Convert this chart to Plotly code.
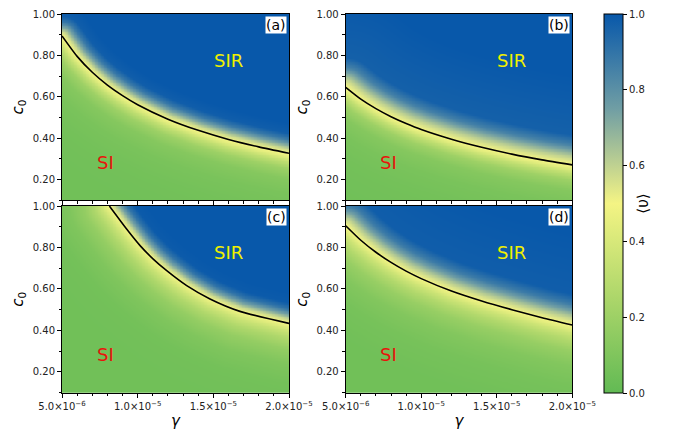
import numpy as np
import plotly.graph_objects as go

# ---- data ----
# phase boundary (black line) per panel: gamma, c0
gamma_a = [5e-6, 6e-6, 7e-6, 8e-6, 9e-6, 10e-6, 12e-6, 14e-6, 16e-6, 18e-6, 20e-6]
c0_a = [0.894, 0.795, 0.718, 0.656, 0.605, 0.561, 0.491, 0.437, 0.393, 0.357, 0.326]

gamma_b = [5e-6, 6e-6, 7e-6, 8e-6, 9e-6, 10e-6, 12e-6, 14e-6, 16e-6, 18e-6, 20e-6]
c0_b = [0.645, 0.588, 0.542, 0.503, 0.47, 0.441, 0.394, 0.355, 0.322, 0.294, 0.27]

gamma_c = [8.13e-6, 9.27e-6, 10.16e-6, 11.03e-6, 11.92e-6, 13.24e-6, 14.78e-6, 16.76e-6, 20.0e-6]
c0_c = [1.0, 0.889, 0.809, 0.744, 0.688, 0.616, 0.552, 0.492, 0.434]

gamma_d = [5e-6, 6e-6, 7e-6, 8e-6, 9e-6, 10e-6, 12e-6, 14e-6, 16e-6, 18e-6, 20e-6]
c0_d = [0.905, 0.835, 0.777, 0.728, 0.686, 0.65, 0.59, 0.542, 0.5, 0.461, 0.426]

# <upsilon> profile across the boundary (signed distance in px, + = above line)
profile_dist = [-90, -60, -40, -25, -15, -8, -3, 0, 4, 8, 14, 20, 30, 90]
profile_a = [0.05, 0.06, 0.08, 0.12, 0.2, 0.32, 0.44, 0.5, 0.57, 0.7, 0.88, 0.98, 1.0, 1.0]
profile_b = [0.05, 0.06, 0.08, 0.12, 0.2, 0.32, 0.44, 0.5, 0.54, 0.6, 0.72, 0.85, 0.97, 1.0]
profile_c = [0.05, 0.06, 0.1, 0.17, 0.26, 0.35, 0.44, 0.5, 0.58, 0.72, 0.9, 0.99, 1.0, 1.0]
profile_d = [0.05, 0.07, 0.11, 0.18, 0.27, 0.36, 0.45, 0.5, 0.55, 0.62, 0.75, 0.87, 0.98, 1.0]

panel_labels = ["(a)", "(b)", "(c)", "(d)"]
x_tickvals = [5e-6, 1e-5, 1.5e-5, 2e-5]
x_ticktext = ["5.0×10<sup>−6</sup>", "1.0×10<sup>−5</sup>", "1.5×10<sup>−5</sup>", "2.0×10<sup>−5</sup>"]
region_sir = (1.6e-5, 0.775)
region_si = (7.85e-6, 0.282)

GMIN, GMAX, CMIN, CMAX = 5e-6, 2e-5, 0.1, 1.0
SX = 227.0 / (GMAX - GMIN)   # px per unit gamma
SY = 186.5 / (CMAX - CMIN)   # px per unit c0

colorscale = [[0.0, "rgb(98,186,84)"], [0.25, "rgb(172,214,106)"], [0.5, "rgb(244,244,132)"],
              [0.75, "rgb(112,158,164)"], [1.0, "rgb(8,88,170)"]]


def build_field(gb, cb, prof):
    gx = np.linspace(GMIN, GMAX, 151)
    cy = np.linspace(CMIN, CMAX, 125)
    gd = np.linspace(gb[0], gb[-1], 220)
    cd = np.interp(gd, gb, cb)
    X = (gx - GMIN) * SX
    Y = (cy - CMIN) * SY
    BX = (gd - GMIN) * SX
    BY = (cd - CMIN) * SY
    dx = X[None, :, None] - BX[None, None, :]
    dy = Y[:, None, None] - BY[None, None, :]
    dist = np.sqrt(dx ** 2 + dy ** 2).min(axis=2)
    bnd = np.interp(gx, gb, cb, left=10.0)
    above = cy[:, None] > bnd[None, :]
    sd = np.where(above, dist, -dist)
    z = np.interp(sd, profile_dist, prof)
    return gx, cy, z


panels = [
    (gamma_a, c0_a, profile_a),
    (gamma_b, c0_b, profile_b),
    (gamma_c, c0_c, profile_c),
    (gamma_d, c0_d, profile_d),
]

W, H = 683, 435
xdoms = [[62 / W, 289 / W], [345.7 / W, 572.3 / W]]
ydoms = [[1 - 200 / H, 1 - 14 / H], [1 - 392.7 / H, 1 - 206 / H]]

fig = go.Figure()
layout = dict(width=W, height=H, margin=dict(l=0, r=0, t=0, b=0, autoexpand=False),
              plot_bgcolor="white", paper_bgcolor="white",
              font=dict(family="DejaVu Sans", size=10, color="black"),
              showlegend=False)
annotations = []
FONT = "DejaVu Sans"

for i, (gb, cb, prof) in enumerate(panels):
    row, col = i // 2, i % 2
    n = i + 1
    xa = "x" if n == 1 else f"x{n}"
    ya = "y" if n == 1 else f"y{n}"
    gx, cy, z = build_field(gb, cb, prof)
    fig.add_trace(go.Heatmap(x=gx, y=cy, z=z, coloraxis="coloraxis", zsmooth="best",
                             xaxis=xa, yaxis=ya, hoverinfo="skip"))
    fig.add_trace(go.Scatter(x=gb, y=cb, mode="lines", xaxis=xa, yaxis=ya,
                             line=dict(color="black", width=1.6, shape="spline", smoothing=0.6),
                             hoverinfo="skip"))
    xkey = "xaxis" if n == 1 else f"xaxis{n}"
    ykey = "yaxis" if n == 1 else f"yaxis{n}"
    layout[xkey] = dict(
        domain=xdoms[col], anchor=ya, range=[GMIN, GMAX], automargin=False,
        tickmode="array", tickvals=x_tickvals, ticktext=x_ticktext,
        showticklabels=(row == 1), ticks="outside", ticklen=4, tickwidth=1, tickcolor="black",
        minor=dict(tickmode="linear", tick0=5e-6, dtick=1e-6, ticks="outside", ticklen=2.5,
                   tickcolor="black", showgrid=False),
        showline=True, linecolor="black", linewidth=1, mirror=True, showgrid=False, zeroline=False,
        tickfont=dict(family=FONT, size=10, color="#222"),
        title=dict(text="<i>γ</i>" if row == 1 else "", font=dict(family=FONT, size=15), standoff=4),
    )
    layout[ykey] = dict(
        domain=ydoms[row], anchor=xa, range=[CMIN, CMAX], automargin=False,
        tickmode="linear", tick0=0.2, dtick=0.2, tickformat=".2f",
        ticks="outside", ticklen=4, tickwidth=1, tickcolor="black",
        minor=dict(tickmode="linear", tick0=0.1, dtick=0.1, ticks="outside", ticklen=2.5,
                   tickcolor="black", showgrid=False),
        showline=True, linecolor="black", linewidth=1, mirror=True, showgrid=False, zeroline=False,
        tickfont=dict(family=FONT, size=10, color="#222"),
        title=dict(text="<i>c</i><sub>0</sub>", font=dict(family=FONT, size=15), standoff=5),
    )
    annotations.append(dict(text=panel_labels[i], xref=f"{xa} domain", yref=f"{ya} domain",
                            x=1, y=1, xanchor="right", yanchor="top", xshift=-2, yshift=-2,
                            showarrow=False, bgcolor="white", borderpad=0,
                            font=dict(family=FONT, size=14, color="black")))
    annotations.append(dict(text="SIR", xref=xa, yref=ya, x=region_sir[0], y=region_sir[1],
                            xanchor="center", yanchor="middle", showarrow=False,
                            font=dict(family=FONT, size=18, color="#f0f000")))
    annotations.append(dict(text="SI", xref=xa, yref=ya, x=region_si[0], y=region_si[1],
                            xanchor="center", yanchor="middle", showarrow=False,
                            font=dict(family=FONT, size=18, color="#e8140c")))

layout["annotations"] = annotations
layout["coloraxis"] = dict(
    cmin=0, cmax=1, colorscale=colorscale,
    colorbar=dict(x=604 / W, xanchor="left", xref="paper", y=1 - 393 / H, yanchor="bottom",
                  len=379 / H, lenmode="fraction", thickness=19, thicknessmode="pixels",
                  xpad=0, ypad=0,
                  outlinewidth=1, outlinecolor="black",
                  tickmode="linear", tick0=0, dtick=0.2, tickformat=".1f",
                  ticks="outside", ticklen=4, tickcolor="black",
                  tickfont=dict(family=FONT, size=10, color="#222"),
                  title=dict(text="⟨υ⟩", side="right", font=dict(family=FONT, size=15))),
)
fig.update_layout(**layout)
fig.write_html("out.html", config={"displayModeBar": False},
               post_script="document.body.style.margin='0px';document.body.style.overflow='hidden';")
